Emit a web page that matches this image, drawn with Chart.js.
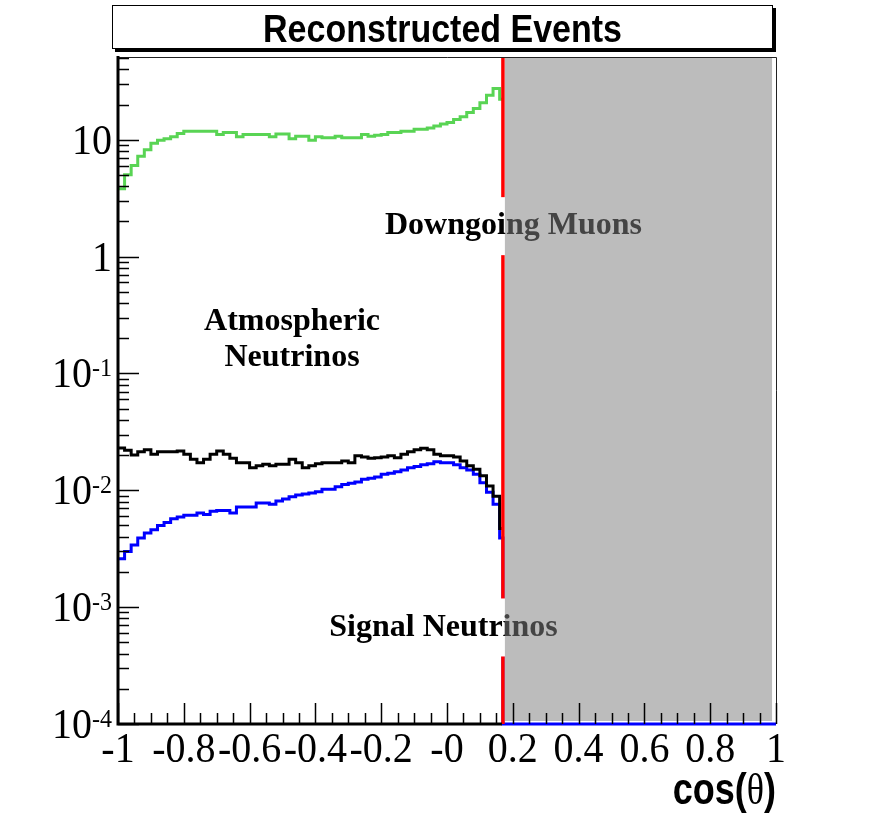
<!DOCTYPE html>
<html>
<head>
<meta charset="utf-8">
<title>Reconstructed Events</title>
<script src="https://cdn.jsdelivr.net/npm/chart.js@4"></script>
<style>
  html, body { margin: 0; padding: 0; background: #fff; }
  #chart { display: block; }
</style>
</head>
<body>
<canvas id="chart" width="880" height="823"></canvas>
<script>
// histogram binning: 0.02 wide bins from cos = -1, last bin cut at the red line
const BIN_START = -1;
const BIN_WIDTH = 0.02;
const CUT_COS = 0.17;

// downgoing muons (green)
const muonValues = [
  3.8, 5.0, 6.0, 7.2, 8.2, 9.3, 9.9, 10.2, 10.6, 11.3,
  11.8, 11.8, 11.8, 11.8, 11.8, 11.1, 11.5, 11.5, 10.6, 11.1,
  11.1, 11.1, 11.1, 10.6, 11.2, 11.2, 10.2, 10.7, 10.7, 9.9,
  10.6, 10.4, 10.4, 10.7, 10.4, 10.4, 10.4, 11.1, 10.7, 10.9,
  11.1, 11.5, 11.5, 11.8, 11.8, 12.3, 12.3, 12.6, 13.1, 13.6,
  14.0, 14.9, 15.7, 17.1, 18.5, 20.7, 24.0, 27.4, 22.2
];

// atmospheric neutrinos (black)
const atmoValues = [
  0.0230, 0.0220, 0.0200, 0.0214, 0.0222, 0.0203, 0.0214, 0.0214, 0.0214, 0.0217,
  0.0203, 0.0184, 0.0172, 0.0184, 0.0203, 0.0217, 0.0203, 0.0188, 0.0172, 0.0172,
  0.0156, 0.0162, 0.0167, 0.0162, 0.0167, 0.0167, 0.0184, 0.0172, 0.0156, 0.0162,
  0.0169, 0.0172, 0.0172, 0.0172, 0.0178, 0.0172, 0.0197, 0.0193, 0.0188, 0.0190,
  0.0193, 0.0197, 0.0190, 0.0203, 0.0214, 0.0222, 0.0229, 0.0222, 0.0203, 0.0197,
  0.0197, 0.0193, 0.0178, 0.0162, 0.0151, 0.0133, 0.0109, 0.0089, 0.0047
];

// signal neutrinos (blue)
const signalValues = [
  0.0026, 0.0030, 0.0034, 0.0039, 0.0043, 0.0046, 0.0050, 0.0053, 0.0057, 0.0059,
  0.0061, 0.0061, 0.0064, 0.0062, 0.0066, 0.0067, 0.0067, 0.0064, 0.0072, 0.0072,
  0.0072, 0.0078, 0.0078, 0.0076, 0.0081, 0.0084, 0.0088, 0.0091, 0.0093, 0.0095,
  0.0097, 0.0102, 0.0102, 0.0107, 0.0112, 0.0115, 0.0118, 0.0124, 0.0127, 0.0130,
  0.0137, 0.0140, 0.0144, 0.0149, 0.0156, 0.0160, 0.0165, 0.0169, 0.0175, 0.0172,
  0.0172, 0.0165, 0.0156, 0.0149, 0.0137, 0.0116, 0.0096, 0.0076, 0.0039
];

// axes
const X_MIN = -1, X_MAX = 1;
const Y_MIN = 1e-4, Y_MAX = 51;
const xTickValues = [-1, -0.8, -0.6, -0.4, -0.2, 0, 0.2, 0.4, 0.6, 0.8, 1];
const xTickLabels = ['-1', '-0.8', '-0.6', '-0.4', '-0.2', '-0', '0.2', '0.4', '0.6', '0.8', '1'];
const yTickValues = [1e-4, 1e-3, 1e-2, 1e-1, 1, 10];
const yTickLabels = [['10', '-4'], ['10', '-3'], ['10', '-2'], ['10', '-1'], ['1', ''], ['10', '']];

// shaded (excluded) region in cos(theta)
const shadedRange = [0.176, 0.988];

const TITLE = 'Reconstructed Events';
const X_TITLE = ['cos(', '\u03b8', ')'];

// step points: left edge of every bin, then the cut
function toPoints(values, dropToFloor) {
  const pts = values.map((v, i) => ({ x: BIN_START + BIN_WIDTH * i, y: v }));
  pts.push({ x: CUT_COS, y: values[values.length - 1] });
  if (dropToFloor) {
    pts.push({ x: CUT_COS, y: Y_MIN });
    pts.push({ x: X_MAX, y: Y_MIN });
  }
  return pts;
}

function textStretch(ctx, txt, x, y, font, sy, align, baseline) {
  ctx.save();
  ctx.translate(x, y);
  ctx.scale(1, sy);
  ctx.font = font;
  ctx.textAlign = align;
  ctx.textBaseline = baseline;
  ctx.fillText(txt, 0, 0);
  ctx.restore();
}

const rootDecor = {
  id: 'rootDecor',
  afterDatasetsDraw(chart) {
    const { ctx, chartArea: a, scales } = chart;
    const xs = scales.x, ys = scales.y;
    const cutPx = xs.getPixelForValue(CUT_COS);

    ctx.save();
    // red cut line
    ctx.strokeStyle = '#ff0000';
    ctx.lineWidth = 3.5;
    ctx.beginPath();
    ctx.moveTo(cutPx, a.top);
    ctx.lineTo(cutPx, a.bottom);
    ctx.stroke();

    // annotations with white boxes
    const serifBold = 'bold 32px "Liberation Serif", "Times New Roman", serif';
    ctx.font = serifBold;
    const notes = [
      { lines: ['Downgoing Muons'], x: 0.202, y: 1.82, box: true },
      { lines: ['Atmospheric', 'Neutrinos'], x: -0.471, y: 0.196, box: false },
      { lines: ['Signal Neutrinos'], x: -0.0106, y: 6.7e-4, box: true }
    ];
    notes.forEach(n => {
      const cx = xs.getPixelForValue(n.x);
      const cy = ys.getPixelForValue(n.y);
      if (n.box) {
        const w = ctx.measureText(n.lines[0]).width + 16;
        ctx.fillStyle = '#ffffff';
        ctx.fillRect(cx - w / 2, cy - 29, w, 58);
      }
      ctx.fillStyle = '#000000';
      ctx.textAlign = 'center';
      ctx.textBaseline = 'middle';
      const lh = 36;
      n.lines.forEach((ln, i) => {
        ctx.fillText(ln, cx, cy + (i - (n.lines.length - 1) / 2) * lh);
      });
    });

    // grey shaded region (semi transparent, text shows through)
    const gx0 = xs.getPixelForValue(shadedRange[0]);
    const gx1 = xs.getPixelForValue(shadedRange[1]);
    ctx.fillStyle = 'rgba(128,128,128,0.53)';
    ctx.fillRect(gx0, a.top + 1, gx1 - gx0, a.bottom - a.top - 4);

    // frame
    ctx.strokeStyle = '#222';
    ctx.lineWidth = 1;
    ctx.beginPath();
    ctx.moveTo(a.left, a.top + 0.5);
    ctx.lineTo(a.right + 0.5, a.top + 0.5);
    ctx.lineTo(a.right + 0.5, a.bottom);
    ctx.stroke();

    // axis lines
    ctx.strokeStyle = '#000';
    ctx.lineWidth = 3;
    ctx.beginPath();
    ctx.moveTo(a.left, a.top - 1);
    ctx.lineTo(a.left, a.bottom + 1.5);
    ctx.moveTo(a.left, a.bottom);
    ctx.lineTo(cutPx - 1, a.bottom);
    ctx.stroke();

    // y ticks: majors at decades, minors 2..9
    ctx.lineWidth = 1.5;
    ctx.beginPath();
    for (let e = -4; e <= 1; e++) {
      for (let m = 1; m <= 9; m++) {
        const v = m * Math.pow(10, e);
        if (v < Y_MIN || v > Y_MAX) continue;
        const py = Math.round(ys.getPixelForValue(v)) + 0.5;
        const len = m === 1 ? 21 : 11;
        ctx.moveTo(a.left, py);
        ctx.lineTo(a.left + len, py);
      }
    }
    // x ticks: majors every 0.2, minors every 0.05
    for (let i = 0; i <= 40; i++) {
      const v = X_MIN + i * 0.05;
      const px = Math.round(xs.getPixelForValue(v)) + 0.5;
      const len = i % 4 === 0 ? 21 : 11;
      ctx.moveTo(px, a.bottom);
      ctx.lineTo(px, a.bottom - len);
    }
    ctx.stroke();

    // tick labels
    ctx.fillStyle = '#000';
    const serif = '40px "Liberation Serif", "Times New Roman", serif';
    const serifSup = '24px "Liberation Serif", "Times New Roman", serif';
    xTickValues.forEach((v, i) => {
      textStretch(ctx, xTickLabels[i], xs.getPixelForValue(v), a.bottom + 6, serif, 1.05, 'center', 'top');
    });
    yTickValues.forEach((v, i) => {
      const py = ys.getPixelForValue(v);
      const [base, exp] = yTickLabels[i];
      const right = a.left - 6;
      ctx.font = serifSup;
      const ew = exp ? ctx.measureText(exp).width : 0;
      if (exp) textStretch(ctx, exp, right, py - 4, serifSup, 1.05, 'right', 'middle');
      textStretch(ctx, base, right - ew, py + 3, serif, 1.05, 'right', 'middle');
    });

    // x axis title
    const sansBold = 'bold 36px "Liberation Sans", Arial, sans-serif';
    const thetaFont = '36px "Liberation Serif", "Times New Roman", serif';
    ctx.font = sansBold;
    const w0 = ctx.measureText(X_TITLE[0]).width;
    const w2 = ctx.measureText(X_TITLE[2]).width;
    ctx.font = thetaFont;
    const w1 = ctx.measureText(X_TITLE[1]).width;
    let tx = a.right - (w0 + w1 + w2);
    const ty = 804;
    textStretch(ctx, X_TITLE[0], tx, ty, sansBold, 1.25, 'left', 'alphabetic');
    tx += w0;
    textStretch(ctx, X_TITLE[1], tx, ty, thetaFont, 1.25, 'left', 'alphabetic');
    tx += w1;
    textStretch(ctx, X_TITLE[2], tx, ty, sansBold, 1.25, 'left', 'alphabetic');

    // title box with shadow
    const bx = 112, by = 5, bw = 661, bh = 44;
    ctx.fillStyle = '#000';
    ctx.fillRect(bx + 3, by + 3, bw, bh);
    ctx.fillStyle = '#fff';
    ctx.fillRect(bx, by, bw, bh);
    ctx.strokeStyle = '#000';
    ctx.lineWidth = 1;
    ctx.strokeRect(bx + 0.5, by + 0.5, bw - 1, bh - 1);
    ctx.fillStyle = '#000';
    textStretch(ctx, TITLE, bx + bw / 2, by + bh / 2 + 4, 'bold 34px "Liberation Sans", Arial, sans-serif', 1.15, 'center', 'middle');
    ctx.restore();
  }
};

const stepStyle = {
  stepped: true,
  pointRadius: 0,
  borderWidth: 3,
  fill: false,
  clip: false
};

new Chart(document.getElementById('chart').getContext('2d'), {
  type: 'line',
  data: {
    datasets: [
      Object.assign({ label: 'Downgoing Muons', data: toPoints(muonValues, false), borderColor: '#59d454' }, stepStyle),
      Object.assign({ label: 'Atmospheric Neutrinos', data: toPoints(atmoValues, false), borderColor: '#000000' }, stepStyle),
      Object.assign({ label: 'Signal Neutrinos', data: toPoints(signalValues, true), borderColor: '#0000ff' }, stepStyle)
    ]
  },
  options: {
    responsive: false,
    devicePixelRatio: 1,
    animation: false,
    layout: { padding: { top: 57, right: 104, left: 0, bottom: 0 } },
    plugins: { legend: { display: false }, tooltip: { enabled: false }, title: { display: false } },
    scales: {
      x: {
        type: 'linear',
        min: X_MIN,
        max: X_MAX,
        grid: { display: false },
        border: { display: false },
        ticks: { display: false },
        afterFit(scale) { scale.height = 99; }
      },
      y: {
        type: 'logarithmic',
        min: Y_MIN,
        max: Y_MAX,
        grid: { display: false },
        border: { display: false },
        ticks: { display: false },
        afterFit(scale) { scale.width = 118; }
      }
    }
  },
  plugins: [rootDecor]
});
</script>
</body>
</html>
